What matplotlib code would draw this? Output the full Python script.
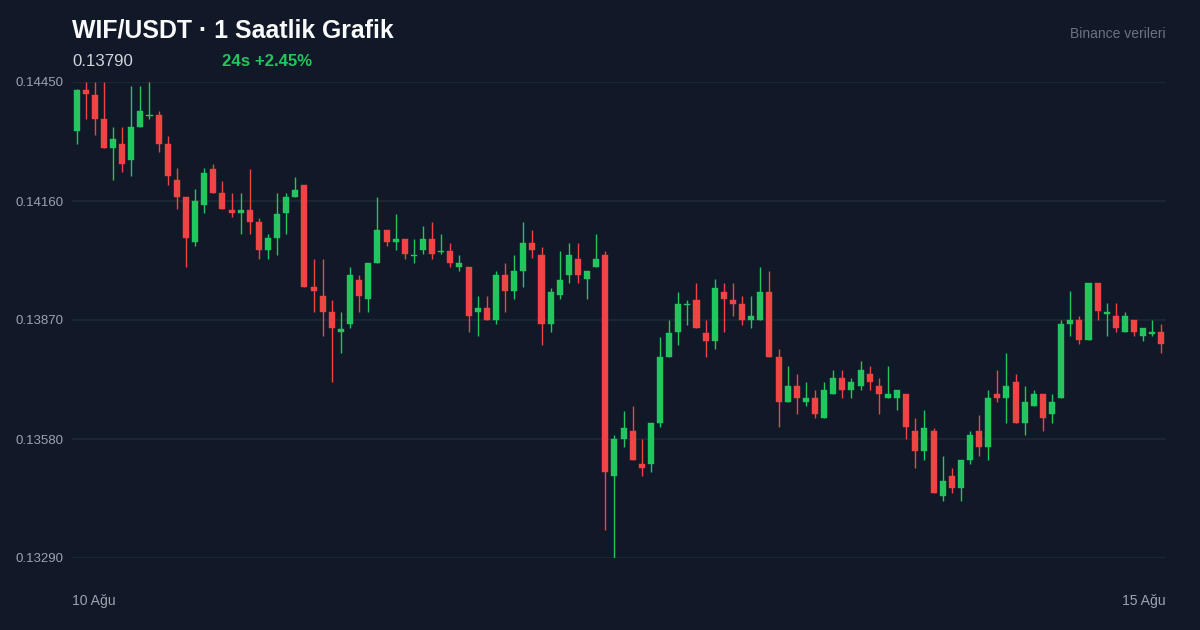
import matplotlib
matplotlib.use("Agg")
import matplotlib.pyplot as plt
import numpy as np

# ---- data ----
opens = [0.14330, 0.14430, 0.14419, 0.14360, 0.14290, 0.14299, 0.14260, 0.14340, 0.14366, 0.14369,
         0.14299, 0.14210, 0.14169, 0.14060, 0.14150, 0.14239, 0.14179, 0.14139, 0.14130, 0.14139,
         0.14109, 0.14040, 0.14070, 0.14131, 0.14170, 0.14199, 0.13950, 0.13929, 0.13889, 0.13840,
         0.13860, 0.13968, 0.13920, 0.14010, 0.14089, 0.14060, 0.14068, 0.14025, 0.14040, 0.14068,
         0.14035, 0.14039, 0.14000, 0.14000, 0.13890, 0.13899, 0.13870, 0.13979, 0.13940, 0.13990,
         0.14058, 0.14028, 0.13861, 0.13931, 0.13980, 0.14019, 0.13970, 0.14000, 0.14028, 0.13490,
         0.13579, 0.13599, 0.13519, 0.13520, 0.13620, 0.13780, 0.13840, 0.13906, 0.13918, 0.13838,
         0.13820, 0.13939, 0.13919, 0.13909, 0.13870, 0.13870, 0.13939, 0.13779, 0.13670, 0.13709,
         0.13670, 0.13679, 0.13630, 0.13690, 0.13729, 0.13699, 0.13709, 0.13739, 0.13709, 0.13680,
         0.13680, 0.13689, 0.13599, 0.13550, 0.13599, 0.13440, 0.13489, 0.13460, 0.13530, 0.13599,
         0.13560, 0.13689, 0.13679, 0.13719, 0.13620, 0.13660, 0.13690, 0.13641, 0.13681, 0.13860,
         0.13870, 0.13821, 0.13959, 0.13885, 0.13880, 0.13841, 0.13870, 0.13830, 0.13837, 0.13840]
highs = [0.14432, 0.14450, 0.14450, 0.14450, 0.14340, 0.14340, 0.14440, 0.14440, 0.14450, 0.14379,
         0.14319, 0.14240, 0.14169, 0.14190, 0.14240, 0.14250, 0.14209, 0.14179, 0.14179, 0.14239,
         0.14119, 0.14079, 0.14179, 0.14179, 0.14219, 0.14199, 0.14019, 0.14019, 0.13919, 0.13889,
         0.14000, 0.13979, 0.14009, 0.14169, 0.14089, 0.14129, 0.14068, 0.14068, 0.14099, 0.14110,
         0.14079, 0.14058, 0.14029, 0.14000, 0.13929, 0.13929, 0.13989, 0.14010, 0.14029, 0.14110,
         0.14089, 0.14049, 0.13949, 0.14039, 0.14058, 0.14058, 0.13989, 0.14079, 0.14039, 0.13589,
         0.13649, 0.13660, 0.13579, 0.13619, 0.13829, 0.13869, 0.13939, 0.13919, 0.13959, 0.13869,
         0.13969, 0.13959, 0.13959, 0.13929, 0.13929, 0.14000, 0.13989, 0.13799, 0.13759, 0.13739,
         0.13719, 0.13699, 0.13719, 0.13749, 0.13749, 0.13729, 0.13769, 0.13759, 0.13729, 0.13759,
         0.13699, 0.13689, 0.13630, 0.13650, 0.13608, 0.13539, 0.13509, 0.13529, 0.13599, 0.13639,
         0.13699, 0.13749, 0.13789, 0.13739, 0.13709, 0.13699, 0.13690, 0.13690, 0.13870, 0.13941,
         0.13880, 0.13959, 0.13959, 0.13911, 0.13911, 0.13890, 0.13870, 0.13850, 0.13870, 0.13860]
lows = [0.14300, 0.14360, 0.14320, 0.14290, 0.14210, 0.14230, 0.14220, 0.14340, 0.14360, 0.14279,
        0.14200, 0.14140, 0.14000, 0.14050, 0.14130, 0.14180, 0.14140, 0.14120, 0.14080, 0.14080,
        0.14019, 0.14019, 0.14029, 0.14080, 0.14170, 0.13950, 0.13890, 0.13830, 0.13720, 0.13790,
        0.13850, 0.13890, 0.13890, 0.14010, 0.14050, 0.14040, 0.14019, 0.14010, 0.14030, 0.14019,
        0.14030, 0.14000, 0.13989, 0.13840, 0.13830, 0.13870, 0.13860, 0.13890, 0.13920, 0.13950,
        0.14020, 0.13810, 0.13840, 0.13920, 0.13960, 0.13960, 0.13920, 0.14000, 0.13359, 0.13290,
        0.13560, 0.13530, 0.13490, 0.13500, 0.13609, 0.13780, 0.13809, 0.13859, 0.13850, 0.13780,
        0.13799, 0.13840, 0.13880, 0.13859, 0.13850, 0.13870, 0.13780, 0.13609, 0.13670, 0.13640,
        0.13660, 0.13630, 0.13630, 0.13690, 0.13680, 0.13680, 0.13699, 0.13699, 0.13640, 0.13680,
        0.13650, 0.13580, 0.13509, 0.13530, 0.13449, 0.13430, 0.13449, 0.13430, 0.13520, 0.13539,
        0.13530, 0.13669, 0.13620, 0.13620, 0.13590, 0.13660, 0.13600, 0.13620, 0.13681, 0.13830,
        0.13811, 0.13821, 0.13870, 0.13830, 0.13840, 0.13841, 0.13830, 0.13820, 0.13830, 0.13790]
closes = [0.14430, 0.14420, 0.14360, 0.14290, 0.14310, 0.14250, 0.14340, 0.14379, 0.14370, 0.14300,
          0.14220, 0.14170, 0.14070, 0.14160, 0.14229, 0.14180, 0.14140, 0.14130, 0.14139, 0.14110,
          0.14040, 0.14069, 0.14129, 0.14169, 0.14188, 0.13950, 0.13941, 0.13890, 0.13850, 0.13849,
          0.13979, 0.13929, 0.14009, 0.14089, 0.14060, 0.14068, 0.14030, 0.14029, 0.14068, 0.14030,
          0.14039, 0.14010, 0.14009, 0.13880, 0.13899, 0.13870, 0.13979, 0.13940, 0.13989, 0.14058,
          0.14040, 0.13861, 0.13939, 0.13968, 0.14028, 0.13980, 0.13989, 0.14019, 0.13500, 0.13579,
          0.13608, 0.13530, 0.13510, 0.13619, 0.13779, 0.13839, 0.13908, 0.13910, 0.13850, 0.13820,
          0.13949, 0.13920, 0.13910, 0.13870, 0.13879, 0.13939, 0.13780, 0.13670, 0.13709, 0.13680,
          0.13679, 0.13640, 0.13699, 0.13729, 0.13699, 0.13719, 0.13749, 0.13719, 0.13690, 0.13689,
          0.13699, 0.13610, 0.13550, 0.13608, 0.13449, 0.13478, 0.13460, 0.13529, 0.13589, 0.13560,
          0.13679, 0.13679, 0.13709, 0.13620, 0.13669, 0.13689, 0.13631, 0.13670, 0.13860, 0.13870,
          0.13821, 0.13959, 0.13891, 0.13890, 0.13851, 0.13880, 0.13841, 0.13850, 0.13841, 0.13811]

y_ticks = [0.14450, 0.14160, 0.13870, 0.13580, 0.13290]
y_tick_labels = ["0.14450", "0.14160", "0.13870", "0.13580", "0.13290"]
x_labels = ["10 Ağu", "15 Ağu"]
title = "WIF/USDT · 1 Saatlik Grafik"
last_price = "0.13790"
change_text = "24s +2.45%"
source_text = "Binance verileri"

# ---- style ----
BG = "#111827"
GRID = "#1f2937"
UP = "#22c55e"
DOWN = "#ef4444"
TICK = "#9ca3af"

plt.rcParams['font.family'] = ['Liberation Sans', 'DejaVu Sans']

W, H = 1200, 630
fig = plt.figure(figsize=(12, 6.3), dpi=100, facecolor=BG)
ax = fig.add_axes([72 / W, 1 - 558 / H, (1166 - 72) / W, (558 - 82) / H])
ax.set_facecolor(BG)

o = np.array(opens); h = np.array(highs); l = np.array(lows); c = np.array(closes)
x = np.arange(len(o))
up = c >= o
colors = np.where(up, UP, DOWN)

for yt in y_ticks:
    ax.axhline(yt, color=GRID, lw=1.1, zorder=0)

ax.vlines(x, l, h, colors=colors, lw=1.0, zorder=2)
bottom = np.minimum(o, c)
height = np.maximum(np.abs(c - o), 0.000025)
ax.bar(x, height, bottom=bottom, width=0.66, color=colors, edgecolor=colors, lw=0.3, zorder=3)

ax.set_xlim(-0.5, len(o) - 0.5)
ax.set_ylim(min(y_ticks), max(y_ticks))
ax.set_xticks([]); ax.set_yticks([])
for s in ax.spines.values():
    s.set_visible(False)

for yt, lab in zip(y_ticks, y_tick_labels):
    ax.text((15 - 72) / 1094, yt, lab, transform=ax.get_yaxis_transform(), ha='left',
            va='center_baseline', color=TICK, fontsize=9.5, clip_on=False)

fig.text(72 / W, 1 - 599 / H, x_labels[0], ha='left', va='center_baseline', color=TICK, fontsize=10.1)
fig.text(1166 / W, 1 - 599 / H, x_labels[1], ha='right', va='center_baseline', color=TICK, fontsize=10.1)

fig.text(72 / W, 1 - 38 / H, title, ha='left', va='baseline', color='#f9fafb', fontsize=17.9, fontweight='bold')
fig.text(72 / W, 1 - 66 / H, last_price, ha='left', va='baseline', color='#d1d5db', fontsize=12.1)
fig.text(222 / W, 1 - 66 / H, change_text, ha='left', va='baseline', color=UP, fontsize=12.1, fontweight='bold')
fig.text(1166 / W, 1 - 38 / H, source_text, ha='right', va='baseline', color='#6b7280', fontsize=10.0)

fig.savefig("out.png", dpi=100, facecolor=BG)
